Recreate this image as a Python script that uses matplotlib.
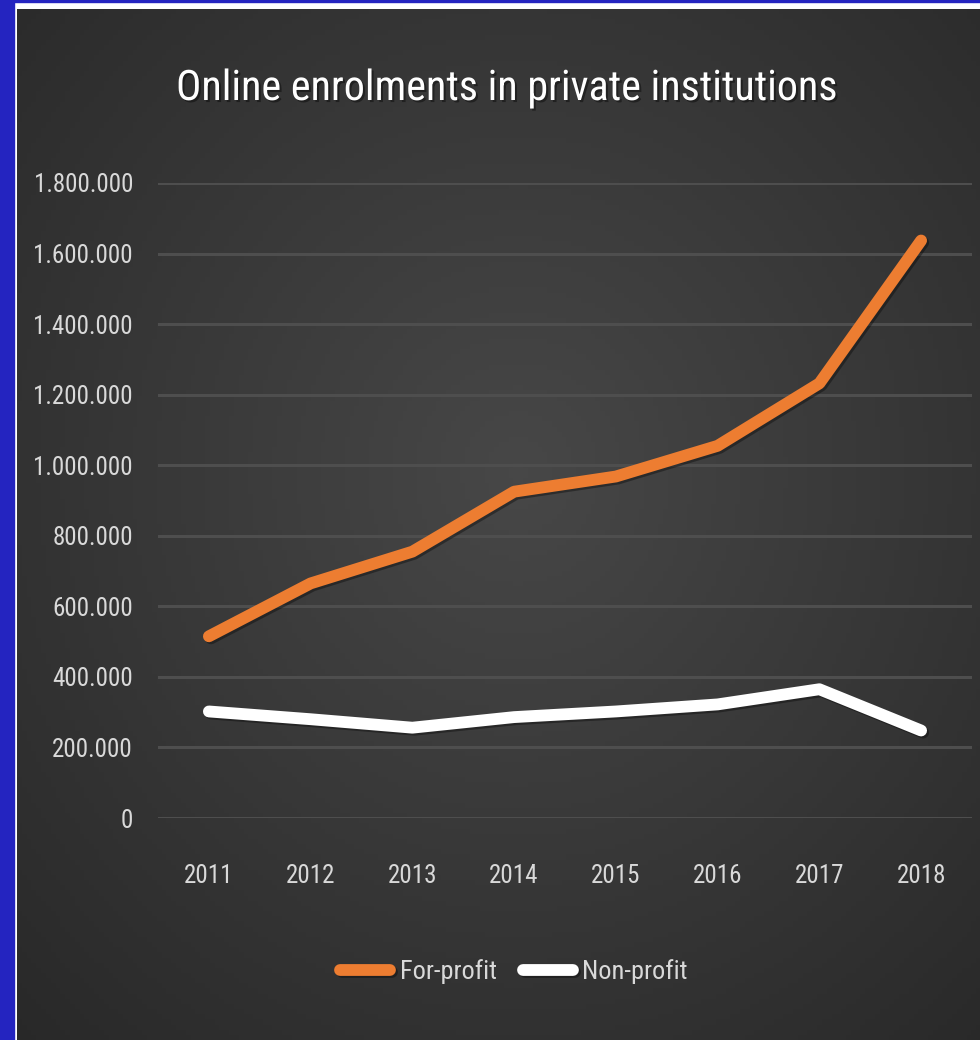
import matplotlib
matplotlib.use("Agg")
import matplotlib.pyplot as plt
import matplotlib.patheffects as pe
import numpy as np
from matplotlib.ticker import FuncFormatter

years = ["2011", "2012", "2013", "2014", "2015", "2016", "2017", "2018"]
for_profit = [515000, 665000, 755000, 925000, 968000, 1055000, 1232000, 1637000]
non_profit = [302000, 280000, 256000, 286000, 302000, 322000, 365000, 248000]
y_ticks = [0, 200000, 400000, 600000, 800000, 1000000, 1200000, 1400000, 1600000, 1800000]

plt.rcParams["font.family"] = ["Roboto Condensed", "Liberation Sans Narrow",
                               "Open Sans Condensed", "Roboto", "DejaVu Sans"]
plt.rcParams["font.stretch"] = "condensed"

W, H = 980, 1040
fig = plt.figure(figsize=(W / 100, H / 100), dpi=100)
fig.patch.set_facecolor("white")

# frame: blue strip on the left, thin white line, dark panel with radial gradient
frame = fig.add_axes([0, 0, 1, 1])
frame.set_xlim(0, W)
frame.set_ylim(H, 0)
frame.axis("off")
frame.add_patch(plt.Rectangle((0, 0), 14, H, color="#2424c0", zorder=0))
frame.add_patch(plt.Rectangle((0, 0), W, 2, color="#2424c0", zorder=0))

gx, gy = np.meshgrid(np.linspace(0, 1, 200), np.linspace(0, 1, 200))
r = np.sqrt(((gx - 0.52) / 0.75) ** 2 + ((gy - 0.45) / 0.75) ** 2)
shade = np.clip(0.28 - 0.12 * r, 0.15, 0.28)
rgb = np.dstack([shade, shade, shade])
frame.imshow(rgb, extent=(17, W, H, 9), aspect="auto", zorder=1)

ax = fig.add_axes([158 / W, 1 - 818 / H, (972 - 158) / W, (818 - 183) / H])
ax.patch.set_alpha(0)
x = np.arange(len(years))

shadow = [pe.SimpleLineShadow(offset=(1.5, -1.5), shadow_color="black", alpha=0.35), pe.Normal()]
ax.plot(x, for_profit, color="#ed7d31", lw=8.5, solid_capstyle="round",
        solid_joinstyle="round", label="For-profit", path_effects=shadow, zorder=3)
ax.plot(x, non_profit, color="white", lw=8.5, solid_capstyle="round",
        solid_joinstyle="round", label="Non-profit", path_effects=shadow, zorder=3)

ax.set_xlim(-0.5, len(years) - 0.5)
ax.set_ylim(0, 1800000)
ax.set_yticks(y_ticks)
ax.yaxis.set_major_formatter(FuncFormatter(lambda v, p: f"{int(v):,}".replace(",", ".")))
ax.set_xticks(x)
ax.set_xticklabels(years)
ax.grid(axis="y", color="#4e4e4e", lw=2.2, zorder=1)
for s in ax.spines.values():
    s.set_visible(False)
ax.tick_params(length=0, labelsize=18, colors="#d9d9d9")
ax.tick_params(axis="y", pad=18)
ax.tick_params(axis="x", pad=33)

title_fx = [pe.withSimplePatchShadow(offset=(1.5, -1.5), shadow_rgbFace="black", alpha=0.4)]
fig.text(507 / W, 1 - 100 / H, "Online enrolments in private institutions",
         ha="center", va="baseline", fontsize=30.3, color="white",
         path_effects=title_fx)

leg = fig.legend(loc="center", bbox_to_anchor=(514 / W, 1 - 972 / H), ncol=2,
                 frameon=False, fontsize=19, handlelength=1.9, handletextpad=0.35,
                 columnspacing=1.0, labelcolor="#d9d9d9")

fig.savefig("out.png", dpi=100, facecolor=fig.get_facecolor())
